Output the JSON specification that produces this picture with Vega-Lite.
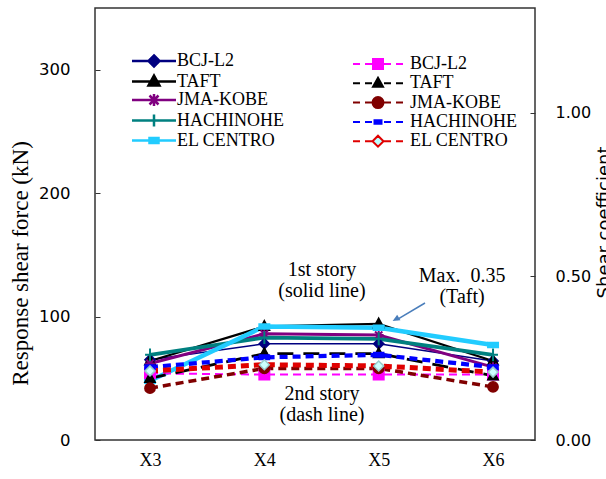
{
  "$schema": "https://vega.github.io/schema/vega-lite/v6.json",
  "width": 440,
  "height": 432,
  "autosize": "none",
  "padding": {"left": 95, "top": 8, "right": 71, "bottom": 39},
  "background": "white",
  "config": {
    "view": {"stroke": "#333333", "strokeWidth": 1.5},
    "axis": {"grid": false, "domain": false, "labelColor": "black", "titleColor": "black", "tickColor": "#333333"}
  },
  "data": {
    "values": [
      {"story": 1, "quake": "BCJ-L2", "x": 3, "force": 65},
      {"story": 1, "quake": "BCJ-L2", "x": 4, "force": 78},
      {"story": 1, "quake": "BCJ-L2", "x": 5, "force": 78},
      {"story": 1, "quake": "BCJ-L2", "x": 6, "force": 64},
      {"story": 1, "quake": "TAFT", "x": 3, "force": 64},
      {"story": 1, "quake": "TAFT", "x": 4, "force": 92},
      {"story": 1, "quake": "TAFT", "x": 5, "force": 94},
      {"story": 1, "quake": "TAFT", "x": 6, "force": 64},
      {"story": 1, "quake": "JMA-KOBE", "x": 3, "force": 62},
      {"story": 1, "quake": "JMA-KOBE", "x": 4, "force": 86},
      {"story": 1, "quake": "JMA-KOBE", "x": 5, "force": 85},
      {"story": 1, "quake": "JMA-KOBE", "x": 6, "force": 59},
      {"story": 1, "quake": "HACHINOHE", "x": 3, "force": 69},
      {"story": 1, "quake": "HACHINOHE", "x": 4, "force": 83},
      {"story": 1, "quake": "HACHINOHE", "x": 5, "force": 82},
      {"story": 1, "quake": "HACHINOHE", "x": 6, "force": 69},
      {"story": 1, "quake": "EL CENTRO", "x": 3, "force": 48},
      {"story": 1, "quake": "EL CENTRO", "x": 4, "force": 92},
      {"story": 1, "quake": "EL CENTRO", "x": 5, "force": 91},
      {"story": 1, "quake": "EL CENTRO", "x": 6, "force": 77},
      {"story": 2, "quake": "BCJ-L2", "x": 3, "force": 54},
      {"story": 2, "quake": "BCJ-L2", "x": 4, "force": 53},
      {"story": 2, "quake": "BCJ-L2", "x": 5, "force": 53},
      {"story": 2, "quake": "BCJ-L2", "x": 6, "force": 53},
      {"story": 2, "quake": "TAFT", "x": 3, "force": 50},
      {"story": 2, "quake": "TAFT", "x": 4, "force": 70},
      {"story": 2, "quake": "TAFT", "x": 5, "force": 70},
      {"story": 2, "quake": "TAFT", "x": 6, "force": 52},
      {"story": 2, "quake": "JMA-KOBE", "x": 3, "force": 42},
      {"story": 2, "quake": "JMA-KOBE", "x": 4, "force": 58},
      {"story": 2, "quake": "JMA-KOBE", "x": 5, "force": 58},
      {"story": 2, "quake": "JMA-KOBE", "x": 6, "force": 43},
      {"story": 2, "quake": "HACHINOHE", "x": 3, "force": 59},
      {"story": 2, "quake": "HACHINOHE", "x": 4, "force": 67},
      {"story": 2, "quake": "HACHINOHE", "x": 5, "force": 69},
      {"story": 2, "quake": "HACHINOHE", "x": 6, "force": 59},
      {"story": 2, "quake": "EL CENTRO", "x": 3, "force": 56},
      {"story": 2, "quake": "EL CENTRO", "x": 4, "force": 61},
      {"story": 2, "quake": "EL CENTRO", "x": 5, "force": 60},
      {"story": 2, "quake": "EL CENTRO", "x": 6, "force": 55}
    ]
  },
  "layer": [
    {
      "encoding": {
        "x": {
          "field": "x", "type": "quantitative",
          "scale": {"domain": [2.519, 6.367], "nice": false, "zero": false},
          "axis": {"values": [3, 4, 5, 6], "labelExpr": "'X' + datum.value", "ticks": false, "title": null,
                   "labelFont": "Liberation Serif", "labelFontSize": 18, "labelPadding": 11}
        },
        "y": {
          "field": "force", "type": "quantitative",
          "scale": {"domain": [0, 350], "nice": false},
          "axis": {"values": [0, 100, 200, 300], "tickSize": -5, "labelPadding": 30,
                   "labelFont": "DejaVu Sans", "labelFontSize": 16.5,
                   "title": "Response shear force (kN)", "titleFont": "Liberation Serif", "titleFontSize": 23,
                   "titleFontWeight": "normal", "titleX": -75, "titleY": 255, "titleBaseline": "middle"}
        }
      },
      "layer": [
        {
          "transform": [{"filter": "datum.story == 1"}],
          "mark": {"type": "line"},
          "encoding": {
            "color": {"field": "quake", "type": "nominal", "legend": null,
                      "scale": {"domain": ["BCJ-L2", "TAFT", "JMA-KOBE", "HACHINOHE", "EL CENTRO"],
                                "range": ["#000080", "#000000", "#800080", "#008080", "#22ccff"]}},
            "strokeWidth": {"field": "quake", "type": "nominal", "legend": null,
                            "scale": {"domain": ["BCJ-L2", "TAFT", "JMA-KOBE", "HACHINOHE", "EL CENTRO"],
                                      "range": [1.5, 4.5, 2, 2, 2.5]}}
          }
        },
        {
          "transform": [{"filter": "datum.story == 2"}],
          "mark": {"type": "line"},
          "encoding": {
            "color": {"field": "quake", "type": "nominal", "legend": null,
                      "scale": {"domain": ["BCJ-L2", "TAFT", "JMA-KOBE", "HACHINOHE", "EL CENTRO"],
                                "range": ["#ff00ff", "#000000", "#800000", "#0000ff", "#e00000"]}},
            "strokeWidth": {"field": "quake", "type": "nominal", "legend": null,
                            "scale": {"domain": ["BCJ-L2", "TAFT", "JMA-KOBE", "HACHINOHE", "EL CENTRO"],
                                      "range": [2, 5, 2, 2, 2]}},
            "strokeDash": {"field": "quake", "type": "nominal", "legend": null,
                           "scale": {"domain": ["BCJ-L2", "TAFT", "JMA-KOBE", "HACHINOHE", "EL CENTRO"],
                                     "range": [[8, 5], [16, 10], [8, 5], [8, 5], [8, 5]]}}
          }
        },
        {
          "transform": [{"filter": "datum.story == 1"}],
          "mark": {"type": "point", "strokeWidth": 2, "opacity": 1},
          "encoding": {
            "shape": {"field": "quake", "type": "nominal", "legend": null,
                      "scale": {"domain": ["BCJ-L2", "TAFT", "JMA-KOBE", "HACHINOHE", "EL CENTRO"],
                                "range": ["M0,-1L1,0L0,1L-1,0Z", "M0,-1.1L1,0.75L-1,0.75Z",
                                          "M-1,0H1M0,-1V1M-0.75,-0.75L0.75,0.75M-0.75,0.75L0.75,-0.75",
                                          "M-1,0H1M0,-1.3V1.3", "M-1,-0.45H1V0.45H-1Z"]}},
            "fill": {"field": "quake", "type": "nominal", "legend": null,
                     "scale": {"domain": ["BCJ-L2", "TAFT", "JMA-KOBE", "HACHINOHE", "EL CENTRO"],
                               "range": ["#000080", "#000000", "transparent", "transparent", "#22ccff"]}},
            "stroke": {"field": "quake", "type": "nominal", "legend": null,
                       "scale": {"domain": ["BCJ-L2", "TAFT", "JMA-KOBE", "HACHINOHE", "EL CENTRO"],
                                 "range": ["#000080", "#000000", "#800080", "#008080", "#22ccff"]}},
            "size": {"field": "quake", "type": "nominal", "legend": null,
                     "scale": {"domain": ["BCJ-L2", "TAFT", "JMA-KOBE", "HACHINOHE", "EL CENTRO"],
                               "range": [90, 100, 90, 110, 90]}}
          }
        },
        {
          "transform": [{"filter": "datum.story == 2"}],
          "mark": {"type": "point", "strokeWidth": 1.5, "opacity": 1},
          "encoding": {
            "shape": {"field": "quake", "type": "nominal", "legend": null,
                      "scale": {"domain": ["BCJ-L2", "TAFT", "JMA-KOBE", "HACHINOHE", "EL CENTRO"],
                                "range": ["M-1,-1H1V1H-1Z", "M0,-1.1L1,0.75L-1,0.75Z", "circle",
                                          "M-1,-0.45H1V0.45H-1Z", "M0,-1L1,0L0,1L-1,0Z"]}},
            "fill": {"field": "quake", "type": "nominal", "legend": null,
                     "scale": {"domain": ["BCJ-L2", "TAFT", "JMA-KOBE", "HACHINOHE", "EL CENTRO"],
                               "range": ["#ff00ff", "#000000", "#800000", "#0000ff", "#ccffff"]}},
            "stroke": {"field": "quake", "type": "nominal", "legend": null,
                       "scale": {"domain": ["BCJ-L2", "TAFT", "JMA-KOBE", "HACHINOHE", "EL CENTRO"],
                                 "range": ["#ff00ff", "#000000", "#800000", "#0000ff", "#99cccc"]}},
            "size": {"field": "quake", "type": "nominal", "legend": null,
                     "scale": {"domain": ["BCJ-L2", "TAFT", "JMA-KOBE", "HACHINOHE", "EL CENTRO"],
                               "range": [110, 100, 130, 60, 160]}}
          }
        },
        {
          "transform": [{"filter": "datum.story == 1"}],
          "mark": {"type": "point", "opacity": 0, "strokeWidth": 2.5},
          "encoding": {
            "shape": {"field": "quake", "type": "nominal",
                      "scale": {"domain": ["BCJ-L2", "TAFT", "JMA-KOBE", "HACHINOHE", "EL CENTRO"],
                                "range": ["M-4.4,0H4.4M0,-1.1L1.1,0L0,1.1L-1.1,0Z",
                                          "M-4.4,0H4.4M0,-1.2L1.1,0.8L-1.1,0.8Z",
                                          "M-4.4,0H4.4M-0.9,-0.9L0.9,0.9M-0.9,0.9L0.9,-0.9M0,-1.2V1.2",
                                          "M-4.4,0H4.4M0,-1.2V1.2",
                                          "M-4.4,0H4.4M-0.9,-0.5H0.9V0.5H-0.9Z"]},
                      "legend": {"orient": "none", "legendX": 50, "legendY": 44, "title": null,
                                 "labelFont": "Liberation Serif", "labelFontSize": 18, "labelColor": "black",
                                 "labelOffset": 14, "rowPadding": -1.5, "symbolSize": 100, "symbolStrokeWidth": 2.5,
                                 "labelLimit": 300, "symbolOpacity": 1}},
            "fill": {"field": "quake", "type": "nominal",
                     "scale": {"domain": ["BCJ-L2", "TAFT", "JMA-KOBE", "HACHINOHE", "EL CENTRO"],
                               "range": ["#000080", "#000000", "#800080", "#008080", "#22ccff"]},
                     "legend": {"orient": "none", "legendX": 50, "legendY": 44, "title": null,
                                "labelFont": "Liberation Serif", "labelFontSize": 18, "labelColor": "black",
                                "labelOffset": 14, "rowPadding": -1.5, "symbolSize": 100, "symbolStrokeWidth": 2.5,
                                "labelLimit": 300, "symbolOpacity": 1}},
            "stroke": {"field": "quake", "type": "nominal",
                       "scale": {"domain": ["BCJ-L2", "TAFT", "JMA-KOBE", "HACHINOHE", "EL CENTRO"],
                                 "range": ["#000080", "#000000", "#800080", "#008080", "#22ccff"]},
                       "legend": {"orient": "none", "legendX": 50, "legendY": 44, "title": null,
                                  "labelFont": "Liberation Serif", "labelFontSize": 18, "labelColor": "black",
                                  "labelOffset": 14, "rowPadding": -1.5, "symbolSize": 100, "symbolStrokeWidth": 2.5,
                                  "labelLimit": 300, "symbolOpacity": 1}}
          }
        },
        {
          "transform": [{"filter": "datum.story == 2"}],
          "mark": {"type": "point", "opacity": 0, "strokeWidth": 2.5},
          "encoding": {
            "shape": {"field": "quake", "type": "nominal",
                      "scale": {"domain": ["BCJ-L2", "TAFT", "JMA-KOBE", "HACHINOHE", "EL CENTRO"],
                                "range": ["M-5,0H-3.6M-2.6,0H-1.2M1.2,0H2.6M3.6,0H5M-1,-1H1V1H-1Z",
                                          "M-5,0H-3.6M-2.6,0H-1.2M1.2,0H2.6M3.6,0H5M0,-1.1L1,0.7L-1,0.7Z",
                                          "M-5,0H-3.6M-2.6,0H-1.2M1.2,0H2.6M3.6,0H5M-1.1,0A1.1,1.1,0,1,0,1.1,0A1.1,1.1,0,1,0,-1.1,0Z",
                                          "M-5,0H-3.6M-2.6,0H-1.2M-0.7,-0.35H0.7V0.35H-0.7ZM1.2,0H2.6M3.6,0H5",
                                          "M-5,0H-3.6M-2.6,0H-1.2M1.2,0H2.6M3.6,0H5M0,-1.1L1.1,0L0,1.1L-1.1,0Z"]},
                      "legend": {"orient": "none", "legendX": 274, "legendY": 47, "title": null,
                                 "labelFont": "Liberation Serif", "labelFontSize": 18, "labelColor": "black",
                                 "labelOffset": 23, "rowPadding": 0.3, "symbolSize": 100, "symbolStrokeWidth": 2,
                                 "labelLimit": 300, "symbolOpacity": 1}},
            "fill": {"field": "quake", "type": "nominal",
                     "scale": {"domain": ["BCJ-L2", "TAFT", "JMA-KOBE", "HACHINOHE", "EL CENTRO"],
                               "range": ["#ff00ff", "#000000", "#800000", "#0000ff", "#bbffff"]},
                     "legend": {"orient": "none", "legendX": 274, "legendY": 47, "title": null,
                                "labelFont": "Liberation Serif", "labelFontSize": 18, "labelColor": "black",
                                "labelOffset": 23, "rowPadding": 0.3, "symbolSize": 100, "symbolStrokeWidth": 2,
                                "labelLimit": 300, "symbolOpacity": 1}},
            "stroke": {"field": "quake", "type": "nominal",
                       "scale": {"domain": ["BCJ-L2", "TAFT", "JMA-KOBE", "HACHINOHE", "EL CENTRO"],
                                 "range": ["#ff00ff", "#000000", "#800000", "#0000ff", "#e00000"]},
                       "legend": {"orient": "none", "legendX": 274, "legendY": 47, "title": null,
                                  "labelFont": "Liberation Serif", "labelFontSize": 18, "labelColor": "black",
                                  "labelOffset": 23, "rowPadding": 0.3, "symbolSize": 100, "symbolStrokeWidth": 2,
                                  "labelLimit": 300, "symbolOpacity": 1}}
          }
        },
        {
          "data": {"values": [
            {"label": "1st story", "x": 4.504, "force": 137.7},
            {"label": "(solid line)", "x": 4.504, "force": 120.7},
            {"label": "2nd story", "x": 4.504, "force": 37.3},
            {"label": "(dash line)", "x": 4.504, "force": 20.3},
            {"label": "Max. \u00a00.35", "x": 5.729, "force": 132.9},
            {"label": "(Taft)", "x": 5.729, "force": 115.9}
          ]},
          "mark": {"type": "text", "font": "Liberation Serif", "fontSize": 20, "color": "black", "align": "center", "baseline": "middle"},
          "encoding": {"text": {"field": "label"}}
        },
        {
          "data": {"values": [{"x": 5.405, "force": 111, "x2": 5.16, "force2": 97.5}]},
          "mark": {"type": "rule", "color": "#4a7ebb", "strokeWidth": 1.5},
          "encoding": {"x2": {"field": "x2"}, "y2": {"field": "force2"}}
        },
        {
          "data": {"values": [{"x": 5.152, "force": 98}]},
          "mark": {"type": "point", "shape": "M0,-1L0.8,0.8L-0.8,0.8Z", "size": 64, "angle": 239, "filled": true, "color": "#4a7ebb", "opacity": 1}
        }
      ],
      "resolve": {"scale": {"color": "independent", "fill": "independent", "stroke": "independent", "shape": "independent", "strokeDash": "independent", "strokeWidth": "independent", "size": "independent"}}
    },
    {
      "data": {"values": [{"coef": 0}]},
      "mark": {"type": "point", "opacity": 0},
      "encoding": {
        "y": {"field": "coef", "type": "quantitative",
              "scale": {"domain": [0, 1.321], "nice": false},
              "axis": {"orient": "right", "values": [0, 0.5, 1], "format": ".2f", "tickSize": -5, "labelPadding": 25,
                       "labelFont": "DejaVu Sans", "labelFontSize": 16,
                       "title": "Shear coefficient", "titleFont": "DejaVu Sans", "titleFontSize": 18, "titleFontWeight": "normal",
                       "titleAngle": -90, "titleX": 69, "titleY": 214, "titleBaseline": "middle"}}
      }
    }
  ],
  "resolve": {"scale": {"y": "independent"}}
}
